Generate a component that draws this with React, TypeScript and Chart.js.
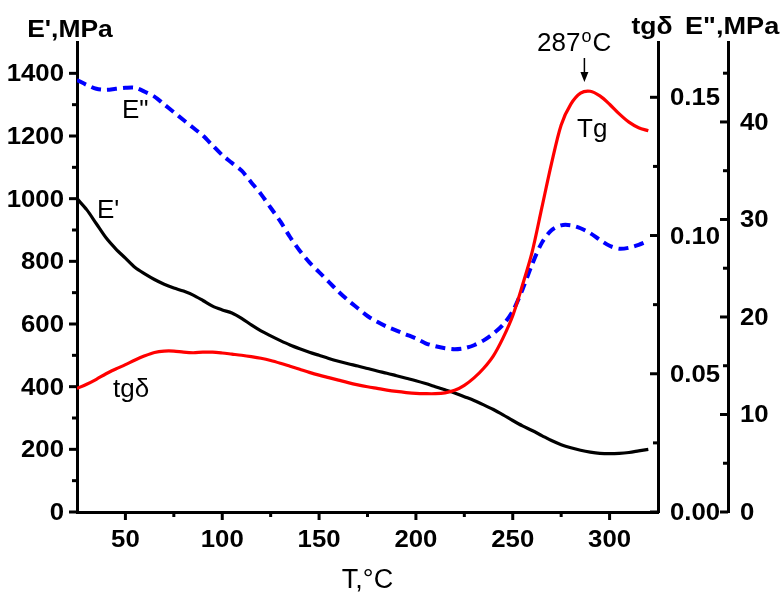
import { useEffect, useRef } from "react";
import { Chart, registerables } from "chart.js";

Chart.register(...registerables);

// Temperature, °C
const TEMPS = [
  25, 30, 35, 40, 45, 50, 55, 60, 65, 70, 75, 80, 85, 90, 95, 100, 105, 110, 115, 120,
  125, 130, 135, 140, 145, 150, 155, 160, 165, 170, 175, 180, 185, 190, 195, 200, 205, 210, 215, 220,
  225, 230, 235, 240, 245, 250, 255, 260, 265, 270, 275, 280, 285, 290, 295, 300, 305, 310, 315, 320,
];

// Storage modulus E', MPa
const E_STORAGE = [
  1000, 965, 920, 875, 840, 810, 780, 760, 742, 727, 715, 705, 692, 675, 657, 645, 635, 618, 597, 578,
  562, 547, 533, 521, 510, 500, 490, 481, 473, 466, 458, 450, 443, 435, 427, 419, 410, 400, 390, 380,
  368, 356, 342, 327, 310, 292, 275, 260, 244, 228, 215, 205, 197, 191, 187, 186, 187, 190, 195, 200,
];

// Loss tangent tgδ
const TAN_DELTA = [
  0.0447, 0.0462, 0.048, 0.05, 0.0517, 0.0533, 0.055, 0.0565, 0.0577, 0.0582, 0.0582, 0.0578, 0.0576, 0.0578, 0.0578, 0.0575, 0.0571, 0.0567, 0.0562, 0.0556,
  0.0548, 0.0538, 0.0527, 0.0516, 0.0505, 0.0495, 0.0486, 0.0477, 0.0468, 0.046, 0.0453, 0.0447, 0.0441, 0.0436, 0.0432, 0.0429, 0.0428, 0.0428, 0.0431, 0.044,
  0.0458, 0.0485, 0.052, 0.0565, 0.063, 0.071, 0.082, 0.094, 0.11, 0.126, 0.14, 0.1475, 0.1515, 0.1522, 0.1505, 0.1475, 0.144, 0.141, 0.139, 0.1379,
];

// Loss modulus E", MPa
const E_LOSS = [
  44.3, 43.8, 43.4, 43.3, 43.4, 43.5, 43.5, 43.1, 42.6, 41.8, 41.0, 40.2, 39.4, 38.6, 37.6, 36.6, 35.8, 35.0, 33.8, 32.6,
  31.2, 29.8, 28.2, 26.8, 25.6, 24.6, 23.6, 22.6, 21.7, 20.9, 20.1, 19.5, 19.0, 18.6, 18.2, 17.8, 17.3, 17.0, 16.8, 16.7,
  16.8, 17.1, 17.6, 18.3, 19.2, 20.6, 22.8, 25.4, 27.6, 28.9, 29.4, 29.4, 29.1, 28.6, 27.9, 27.3, 27.0, 27.1, 27.4, 27.8,
];

// Axis ticks
const X_TICKS = [50, 100, 150, 200, 250, 300];
const X_MINOR = [75, 125, 175, 225, 275];
const E1_TICKS = [0, 200, 400, 600, 800, 1000, 1200, 1400];
const E1_MINOR = [100, 300, 500, 700, 900, 1100, 1300];
const TAN_TICKS = [0, 0.05, 0.1, 0.15];
const TAN_MINOR = [0.025, 0.075, 0.125];
const E2_TICKS = [0, 10, 20, 30, 40];
const E2_MINOR = [5, 15, 25, 35, 45];

const PEAK_T = 287;

const FONT = "'Liberation Sans', Arial, sans-serif";

function wideText(
  ctx: CanvasRenderingContext2D,
  text: string,
  x: number,
  y: number,
  align: CanvasTextAlign,
  stretch: number
) {
  ctx.save();
  ctx.translate(x, y);
  ctx.scale(stretch, 1);
  ctx.textAlign = align;
  ctx.textBaseline = "alphabetic";
  ctx.fillText(text, 0, 0);
  ctx.restore();
}

const decorPlugin = {
  id: "decor",
  afterDraw(chart: any) {
    const { ctx, chartArea, scales } = chart;
    const sx = scales.x;
    const sy = scales.y;
    const st = scales.yTan;
    const sl = scales.yLoss;
    ctx.save();
    ctx.strokeStyle = "#000";
    ctx.fillStyle = "#000";
    ctx.lineCap = "butt";

    const seg = (x1: number, y1: number, x2: number, y2: number, w: number) => {
      ctx.lineWidth = w;
      ctx.beginPath();
      ctx.moveTo(x1, y1);
      ctx.lineTo(x2, y2);
      ctx.stroke();
    };
    const MAJ = 8;
    const MIN = 5;

    // tick marks
    const yb = chartArea.bottom;
    X_TICKS.forEach((v) => { const p = sx.getPixelForValue(v); seg(p, yb, p, yb + MAJ, 3); });
    X_MINOR.forEach((v) => { const p = sx.getPixelForValue(v); seg(p, yb, p, yb + MIN, 3); });
    const xl = sy.right;
    E1_TICKS.forEach((v) => { const p = sy.getPixelForValue(v); seg(xl, p, xl - MAJ, p, 3); });
    E1_MINOR.forEach((v) => { const p = sy.getPixelForValue(v); seg(xl, p, xl - MIN, p, 3); });
    const xt = st.left;
    TAN_TICKS.forEach((v) => { const p = st.getPixelForValue(v); seg(xt, p, xt - MAJ, p, 3); });
    TAN_MINOR.forEach((v) => { const p = st.getPixelForValue(v); seg(xt, p, xt - MIN, p, 3); });
    const xe = sl.left;
    E2_TICKS.forEach((v) => { const p = sl.getPixelForValue(v); seg(xe, p, xe - MAJ, p, 3); });
    E2_MINOR.forEach((v) => { const p = sl.getPixelForValue(v); seg(xe, p, xe - MIN, p, 3); });

    // tick labels
    ctx.font = `bold 23px ${FONT}`;
    X_TICKS.forEach((v) => wideText(ctx, String(v), sx.getPixelForValue(v), yb + 35, "center", 1.12));
    E1_TICKS.forEach((v) => wideText(ctx, String(v), xl - 13, sy.getPixelForValue(v) + 8, "right", 1.12));
    TAN_TICKS.forEach((v) => wideText(ctx, v.toFixed(2), xt + 12, st.getPixelForValue(v) + 8, "left", 1.12));
    E2_TICKS.forEach((v) => wideText(ctx, String(v), xe + 12, sl.getPixelForValue(v) + 8, "left", 1.12));

    // axis titles
    ctx.font = `bold 23px ${FONT}`;
    wideText(ctx, "E',MPa", xl - 7, 37, "center", 1.15);
    wideText(ctx, "tgδ", xt - 6, 34, "center", 1.15);
    wideText(ctx, 'E",MPa', xe - 43, 34, "left", 1.18);

    ctx.font = `27px ${FONT}`;
    ctx.textAlign = "center";
    ctx.textBaseline = "alphabetic";
    ctx.fillText("T,°C", (chartArea.left + chartArea.right) / 2, 588);

    // curve labels
    ctx.font = `26px ${FONT}`;
    ctx.textAlign = "left";
    ctx.fillText('E"', 122, 118);
    ctx.fillText("E'", 97, 218);
    ctx.fillText("tgδ", 113, 397);
    ctx.fillText("Tg", 577, 137);

    // peak marker
    const px = sx.getPixelForValue(PEAK_T);
    let tx = 537;
    ctx.fillText("287", tx, 51);
    tx += ctx.measureText("287").width + 1;
    ctx.font = `18px ${FONT}`;
    ctx.fillText("o", tx, 42);
    tx += ctx.measureText("o").width + 1;
    ctx.font = `26px ${FONT}`;
    ctx.fillText("C", tx, 51);

    seg(px, 58, px, 74, 1.5);
    ctx.beginPath();
    ctx.moveTo(px - 4, 72);
    ctx.lineTo(px + 4, 72);
    ctx.lineTo(px, 82);
    ctx.closePath();
    ctx.fill();

    ctx.restore();
  },
};

const axisBase = {
  type: "linear" as const,
  grid: { display: false },
  ticks: { display: false },
  border: { display: true, width: 3, color: "#000" },
};

export default function App() {
  const canvasRef = useRef<HTMLCanvasElement | null>(null);

  useEffect(() => {
    if (!canvasRef.current) return;
    const pts = (vals: number[]) => TEMPS.map((t, i) => ({ x: t, y: vals[i] }));
    const chart = new Chart(canvasRef.current, {
      type: "line",
      data: {
        datasets: [
          {
            label: "tgδ",
            data: pts(TAN_DELTA),
            yAxisID: "yTan",
            borderColor: "#ff0000",
            borderWidth: 3.2,
            pointRadius: 0,
            tension: 0.3,
          },
          {
            label: "E'",
            data: pts(E_STORAGE),
            yAxisID: "y",
            borderColor: "#000000",
            borderWidth: 3.2,
            pointRadius: 0,
            tension: 0.3,
          },
          {
            label: 'E"',
            data: pts(E_LOSS),
            yAxisID: "yLoss",
            borderColor: "#0000ff",
            borderWidth: 4,
            borderDash: [10, 6],
            pointRadius: 0,
            tension: 0.3,
          },
        ],
      },
      options: {
        animation: false,
        responsive: false,
        devicePixelRatio: 1,
        layout: { padding: { top: 42, left: 0, right: 0, bottom: 0 } },
        plugins: { legend: { display: false }, tooltip: { enabled: false } },
        events: [],
        scales: {
          x: {
            ...axisBase,
            position: "bottom",
            min: 25,
            max: 325,
            afterFit: (s: any) => { s.height = 88; },
          },
          y: {
            ...axisBase,
            position: "left",
            min: 0,
            max: 1500,
            afterFit: (s: any) => { s.width = 77; },
          },
          yTan: {
            ...axisBase,
            position: "right",
            weight: 0,
            min: 0,
            max: 0.17,
            afterFit: (s: any) => { s.width = 70; },
          },
          yLoss: {
            ...axisBase,
            position: "right",
            weight: 1,
            min: 0,
            max: 48.2,
            afterFit: (s: any) => { s.width = 56; },
          },
        },
      },
      plugins: [decorPlugin],
    });
    return () => chart.destroy();
  }, []);

  return (
    <div style={{ position: "absolute", left: 0, top: 0, width: 784, height: 600, background: "#fff" }}>
      <canvas ref={canvasRef} width={784} height={600} style={{ display: "block" }} />
    </div>
  );
}
